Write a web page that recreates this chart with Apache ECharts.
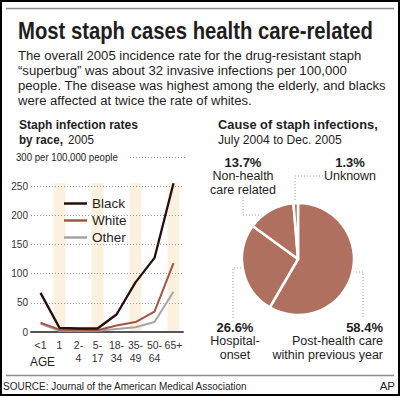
<!DOCTYPE html>
<html lang="en">
<head>
<meta charset="UTF-8">
<title>Most staph cases health care-related</title>
<script src="https://cdn.jsdelivr.net/npm/echarts@6/dist/echarts.min.js"></script>
<style>html,body{margin:0;padding:0;background:#fff}</style>
</head>
<body>
<div id="main" style="width:400px;height:396px"></div>
<script>
// data
var ages = ['<1', '1', '2-\n4', '5-\n17', '18-\n34', '35-\n49', '50-\n64', '65+'];
var black = [67, 7, 6, 6, 30, 85, 127, 255];
var white = [16, 4, 4, 3, 11, 17, 35, 118];
var other = [14, 2, 2, 2, 5, 8, 17, 69];
var bands = ['-', 255, '-', 255, '-', 255, '-', 255];
var pieNames = ['Post-health care\nwithin previous year', 'Hospital-\nonset', 'Non-health\ncare related', 'Unknown'];
var pieValues = [58.4, 26.6, 13.7, 1.3];
var intro = [
    'The overall 2005 incidence rate for the drug-resistant staph',
    '\u201csuperbug\u201d was about 32 invasive infections per 100,000',
    'people. The disease was highest among the elderly, and blacks',
    'were affected at twice the rate of whites.'
];

var FONT = '"Liberation Sans", Arial, sans-serif';
var ctx = document.createElement('canvas').getContext('2d');

function measure(text, size, weight) {
    ctx.font = weight + ' ' + size + 'px ' + FONT;
    return ctx.measureText(text).width;
}
// text squeezed to the width it has in the picture
function txt(text, x, y, size, weight, width, align) {
    var s = width ? width / measure(text, size, weight) : 1;
    return {
        type: 'text', x: x, y: y, scaleX: s, silent: true,
        style: {
            text: text, font: weight + ' ' + size + 'px ' + FONT, fill: '#1e1e1e',
            textAlign: align || 'left', textVerticalAlign: 'middle',
            align: align || 'left', verticalAlign: 'middle'
        }
    };
}
function dots(points) {
    return {type: 'polyline', silent: true, shape: {points: points},
        style: {stroke: '#9a9a9a', lineWidth: 1, lineDash: [1, 2], fill: null}};
}

var introScale = 344 / measure(intro[0], 13.5, 'normal');
var graphics = [
    {type: 'rect', shape: {x: 1, y: 1, width: 398, height: 394}, style: {fill: null, stroke: '#000', lineWidth: 2}, silent: true},
    {type: 'line', shape: {x1: 6, y1: 8.5, x2: 394, y2: 8.5}, style: {stroke: '#8c8c8c', lineWidth: 1.5}, silent: true},
    {type: 'line', shape: {x1: 6, y1: 375.5, x2: 394, y2: 375.5}, style: {stroke: '#8c8c8c', lineWidth: 1.5}, silent: true},
    txt('Most staph cases health care-related', 18, 31, 23, 'bold', 355),
    txt('Staph infection rates', 19, 125, 13, 'bold', 119),
    txt('by race,', 19, 140, 13, 'bold', 44),
    txt('2005', 68, 140, 13, 'normal', 26),
    txt('Cause of staph infections,', 218, 124, 13, 'bold', 160),
    txt('July 2004 to Dec. 2005', 218, 140, 13, 'normal', 124),
    txt('AGE', 30, 362, 13, 'normal', 25),
    txt('SOURCE: Journal of the American Medical Association', 3, 386, 11.5, 'normal', 245),
    txt('AP', 395, 386, 11.5, 'normal', 0, 'right'),
    dots([[243, 197], [243, 215], [262, 215]]),
    dots([[323, 176], [295, 176], [295, 203]]),
    dots([[250, 268], [233, 268], [233, 318]]),
    dots([[338, 272], [363, 272], [363, 318]]),
    // the 300 gridline, which only runs to the right of its unit text
    dots([[130, 157.5], [185, 157.5]])
];
intro.forEach(function (line, i) {
    var g = txt(line, 18, 55 + i * 15.3, 13.5, 'normal');
    g.scaleX = introScale;
    graphics.push(g);
});
graphics.push(txt('300 per 100,000 people', 16, 157, 10, 'normal', 102));

// label spots for the pie: [x, top, align]
var pieLabelPos = [[383, 321, 'right'], [235, 321, 'center'], [243, 156, 'center'], [350, 156, 'center']];

var chart = echarts.init(document.getElementById('main'), null, {renderer: 'svg'});
chart.setOption({
    animation: false,
    textStyle: {fontFamily: FONT},
    grid: {left: 31, right: 217, top: 157, bottom: 64},
    legend: {
        data: ['Black', 'White', 'Other'], orient: 'vertical', left: 59, top: 191,
        icon: 'rect', itemWidth: 23, itemHeight: 2.5, itemGap: 2,
        textStyle: {fontSize: 13.5, lineHeight: 15, color: '#1e1e1e', fontFamily: FONT}
    },
    xAxis: {
        type: 'category', data: ages, z: 2,
        axisLine: {lineStyle: {color: '#555', width: 2}},
        axisTick: {show: false},
        axisLabel: {interval: 0, fontSize: 10.5, lineHeight: 13, color: '#333', margin: 6}
    },
    yAxis: {
        type: 'value', min: 0, max: 300, interval: 50, z: 2,
        axisLine: {show: false}, axisTick: {show: false},
        axisLabel: {
            fontSize: 10, color: '#333', margin: 3,
            formatter: function (v) { return v === 300 ? '' : v; }
        },
        splitLine: {showMaxLine: false, lineStyle: {color: '#9a9a9a', type: [1, 2], width: 1}}
    },
    series: [
        {type: 'bar', data: bands, barWidth: 12, silent: true, z: 1,
            itemStyle: {color: '#fcf1df'}},
        {name: 'Other', type: 'line', data: other, symbol: 'none', z: 3,
            lineStyle: {width: 2, color: '#a5a5a5'}, itemStyle: {color: '#a5a5a5'}},
        {name: 'White', type: 'line', data: white, symbol: 'none', z: 3,
            lineStyle: {width: 2, color: '#a5533f'}, itemStyle: {color: '#a5533f'}},
        {name: 'Black', type: 'line', data: black, symbol: 'none', z: 3,
            lineStyle: {width: 2.3, color: '#2a0c0a'}, itemStyle: {color: '#2a0c0a'}},
        {
            type: 'pie', center: [298, 259], radius: 56, startAngle: 90, clockwise: true,
            silent: true, avoidLabelOverlap: false,
            data: pieValues.map(function (v, i) { return {name: pieNames[i], value: v}; }),
            itemStyle: {color: '#b0705f', borderColor: '#fff', borderWidth: 2.5},
            labelLine: {show: false},
            label: {
                show: true,
                formatter: function (p) {
                    return '{v|' + p.value + '%}\n' + p.name.split('\n').map(function (s) {
                        return '{n|' + s + '}';
                    }).join('\n');
                },
                rich: {
                    v: {fontWeight: 'bold', fontSize: 13, lineHeight: 13.5, color: '#1e1e1e', fontFamily: FONT},
                    n: {fontSize: 12.5, lineHeight: 13.5, color: '#1e1e1e', fontFamily: FONT}
                }
            },
            labelLayout: function (p) {
                var pos = pieLabelPos[p.dataIndex];
                return {x: pos[0], y: pos[1], align: pos[2], verticalAlign: 'top'};
            }
        }
    ],
    graphic: graphics
});
</script>
</body>
</html>
